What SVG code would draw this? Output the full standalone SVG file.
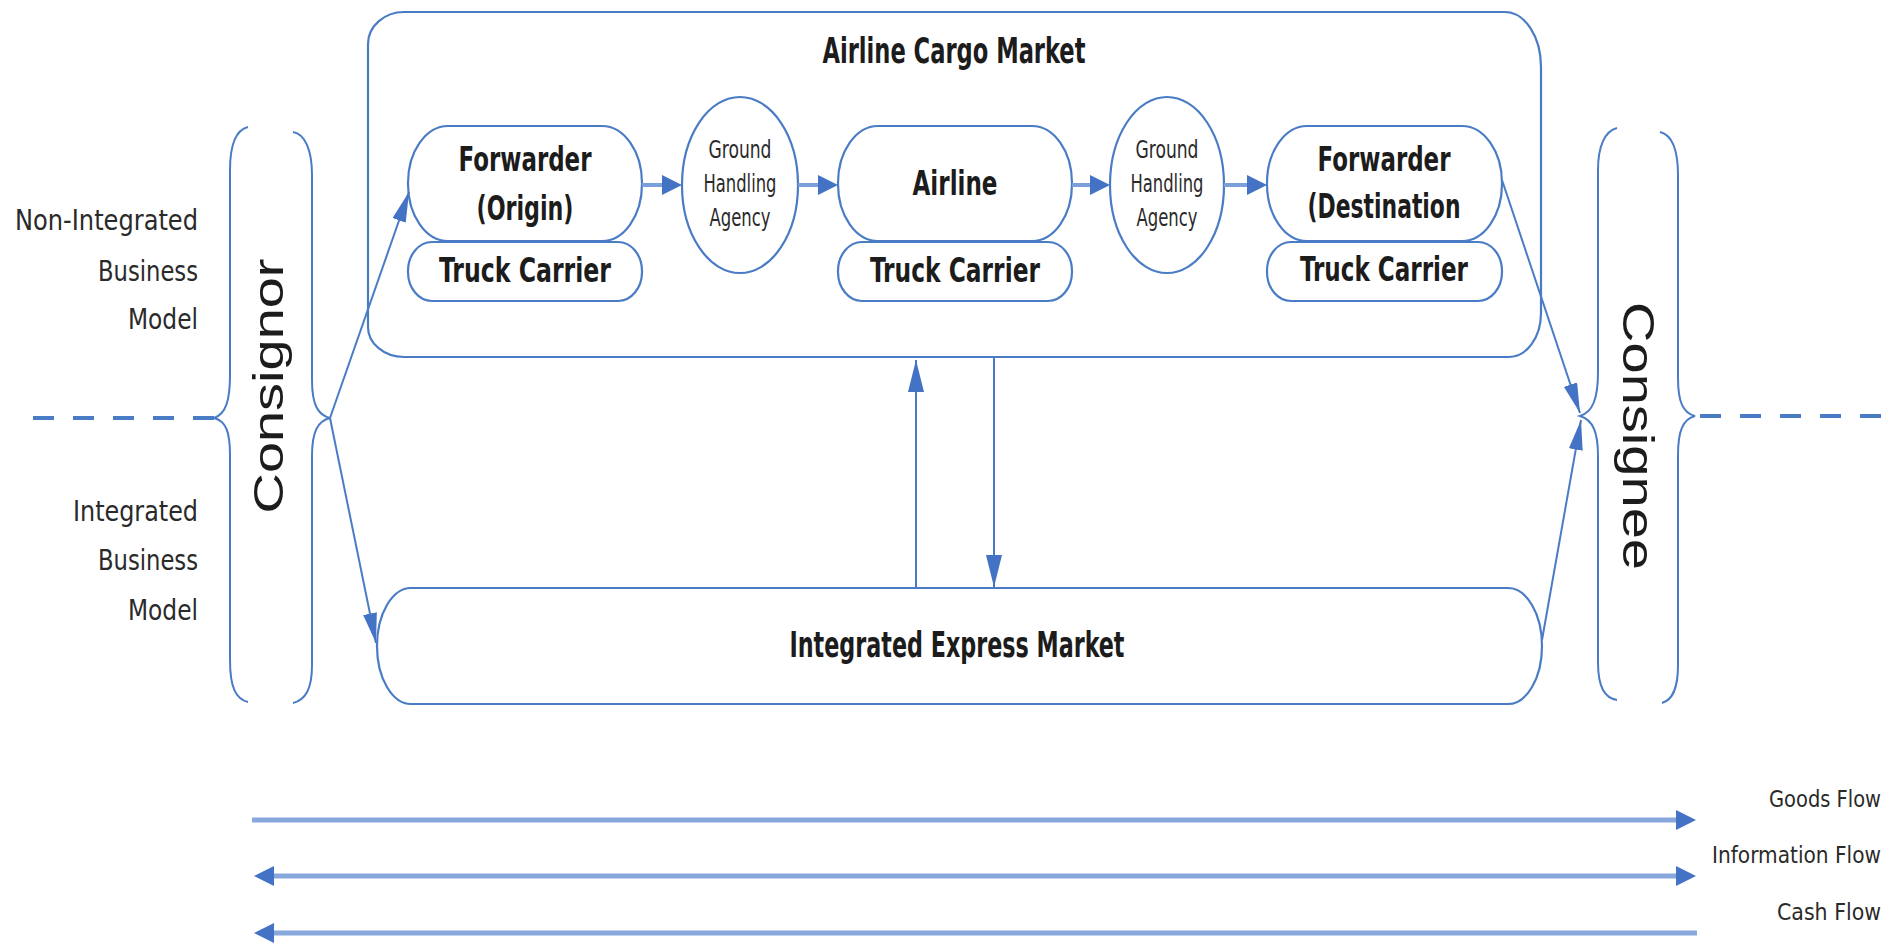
<svg xmlns="http://www.w3.org/2000/svg" width="1900" height="945" viewBox="0 0 1900 945">
  <defs>
    <style>
      .shape { fill: #ffffff; stroke: #4a7cc6; stroke-width: 2.2; }
      .brace { fill: none; stroke: #4a7cc6; stroke-width: 2; }
      .sep { fill: none; stroke: #4a7cc6; stroke-width: 4; stroke-dasharray: 21 19; }
      .thin { fill: none; stroke: #4a7cc6; stroke-width: 2; }
      .band { fill: none; stroke: #7b9fdb; stroke-width: 4; }
      .legend { fill: none; stroke: #87a7dd; stroke-width: 5; }
      .bold { font-family: "DejaVu Sans Condensed", "DejaVu Sans", sans-serif; font-weight: bold; fill: #1c1c1c; text-anchor: middle; }
      .small { font-family: "DejaVu Sans Condensed", "DejaVu Sans", sans-serif; font-size: 24px; fill: #2a2a2a; text-anchor: middle; }
      .side { font-family: "DejaVu Sans Condensed", "DejaVu Sans", sans-serif; font-size: 29px; fill: #2a2a2a; text-anchor: end; }
      .leg { font-family: "DejaVu Sans Condensed", "DejaVu Sans", sans-serif; font-size: 23px; fill: #2a2a2a; text-anchor: end; }
      .party { font-family: "Liberation Sans", Arial, sans-serif; fill: #1c1c1c; text-anchor: middle; }
    </style>
    <!-- short, wide head for the flow arrows between nodes -->
    <marker id="ahN" markerUnits="userSpaceOnUse" viewBox="0 0 20 20" markerWidth="20" markerHeight="20" refX="12" refY="10" orient="auto">
      <path d="M0,0 L20,10 L0,20 z" fill="#4472c4"/>
    </marker>
    <!-- long, narrow head for vertical and steep links -->
    <marker id="ahV" markerUnits="userSpaceOnUse" viewBox="0 0 32 16" markerWidth="32" markerHeight="16" refX="32" refY="8" orient="auto">
      <path d="M0,0 L32,8 L0,16 z" fill="#4472c4"/>
    </marker>
    <marker id="ahD" markerUnits="userSpaceOnUse" viewBox="0 0 30 14" markerWidth="30" markerHeight="14" refX="30" refY="7" orient="auto">
      <path d="M0,0 L30,7 L0,14 z" fill="#4472c4"/>
    </marker>
    <!-- legend heads -->
    <marker id="ahL" markerUnits="userSpaceOnUse" viewBox="0 0 20 20" markerWidth="20" markerHeight="20" refX="10" refY="10" orient="auto-start-reverse">
      <path d="M0,0 L20,10 L0,20 z" fill="#4472c4"/>
    </marker>
  </defs>

  <rect width="1900" height="945" fill="#ffffff"/>

  <!-- dashed separators between the two business models -->
  <g id="separators">
    <line class="sep" x1="214" y1="418" x2="27" y2="418"/>
    <line class="sep" x1="1700" y1="416" x2="1900" y2="416"/>
  </g>

  <!-- side labels -->
  <g id="model-labels">
    <text class="side" x="198" y="230" textLength="183" lengthAdjust="spacingAndGlyphs">Non-Integrated</text>
    <text class="side" x="198" y="281" textLength="100" lengthAdjust="spacingAndGlyphs">Business</text>
    <text class="side" x="198" y="329" textLength="70" lengthAdjust="spacingAndGlyphs">Model</text>
    <text class="side" x="198" y="521" textLength="125" lengthAdjust="spacingAndGlyphs">Integrated</text>
    <text class="side" x="198" y="570" textLength="100" lengthAdjust="spacingAndGlyphs">Business</text>
    <text class="side" x="198" y="620" textLength="70" lengthAdjust="spacingAndGlyphs">Model</text>
  </g>

  <!-- Consignor -->
  <g id="consignor">
    <path class="brace" d="M248,127 C236,130 230,145 230,170 L230,375 C230,400 226,414 214,418 C226,421 230,432 230,455 L230,660 C230,688 236,699 248,702"/>
    <path class="brace" d="M293,132 C305,134 312,150 312,175 L312,380 C312,405 318,415 330,418 C318,421 312,431 312,456 L312,665 C312,690 305,700 293,703"/>
    <text class="party" font-size="42" transform="translate(283,386) rotate(-90)" textLength="255" lengthAdjust="spacingAndGlyphs">Consignor</text>
  </g>

  <!-- Consignee -->
  <g id="consignee">
    <path class="brace" d="M1617,128 C1605,131 1598,146 1598,170 L1598,372 C1598,398 1593,412 1580,416 C1593,420 1598,432 1598,456 L1598,662 C1598,688 1605,698 1617,700"/>
    <path class="brace" d="M1660,132 C1672,135 1678,150 1678,175 L1678,378 C1678,402 1683,413 1695,416 C1683,419 1678,431 1678,455 L1678,665 C1678,690 1672,700 1662,703"/>
    <text class="party" font-size="44" transform="translate(1623,436) rotate(90)" textLength="268" lengthAdjust="spacingAndGlyphs">Consignee</text>
  </g>

  <!-- Airline Cargo Market frame -->
  <g id="airline-cargo-market">
    <path class="shape" d="M404,12 L1505,12 A36,55 0 0 1 1541,67 L1541,313 A32,44 0 0 1 1509,357 L404,357 A36,30 0 0 1 368,327 L368,44 A36,32 0 0 1 404,12 z"/>
    <text class="bold" x="954" y="63" font-size="35" textLength="263" lengthAdjust="spacingAndGlyphs">Airline Cargo Market</text>
  </g>

  <!-- Forwarder (Origin) -->
  <g id="forwarder-origin">
    <rect class="shape" x="408" y="126" width="234" height="115" rx="40" ry="57"/>
    <text class="bold" x="525" y="171" font-size="33" textLength="133" lengthAdjust="spacingAndGlyphs">Forwarder</text>
    <text class="bold" x="525" y="220" font-size="33" textLength="97" lengthAdjust="spacingAndGlyphs">(Origin)</text>
  </g>
  <g id="truck-origin">
    <rect class="shape" x="408" y="242" width="234" height="59" rx="24" ry="29"/>
    <text class="bold" x="525" y="282" font-size="33" textLength="172" lengthAdjust="spacingAndGlyphs">Truck Carrier</text>
  </g>

  <!-- Ground Handling Agency (origin side) -->
  <g id="gha-origin">
    <ellipse class="shape" cx="740" cy="185" rx="58" ry="88"/>
    <text class="small" x="740" y="158" textLength="63" lengthAdjust="spacingAndGlyphs">Ground</text>
    <text class="small" x="740" y="192" textLength="73" lengthAdjust="spacingAndGlyphs">Handling</text>
    <text class="small" x="740" y="226" textLength="61" lengthAdjust="spacingAndGlyphs">Agency</text>
  </g>

  <!-- Airline -->
  <g id="airline">
    <rect class="shape" x="838" y="126" width="234" height="115" rx="40" ry="57"/>
    <text class="bold" x="955" y="195" font-size="33" textLength="85" lengthAdjust="spacingAndGlyphs">Airline</text>
  </g>
  <g id="truck-airline">
    <rect class="shape" x="838" y="242" width="234" height="59" rx="24" ry="29"/>
    <text class="bold" x="955" y="282" font-size="33" textLength="170" lengthAdjust="spacingAndGlyphs">Truck Carrier</text>
  </g>

  <!-- Ground Handling Agency (destination side) -->
  <g id="gha-destination">
    <ellipse class="shape" cx="1167" cy="185" rx="57" ry="88"/>
    <text class="small" x="1167" y="158" textLength="63" lengthAdjust="spacingAndGlyphs">Ground</text>
    <text class="small" x="1167" y="192" textLength="73" lengthAdjust="spacingAndGlyphs">Handling</text>
    <text class="small" x="1167" y="226" textLength="61" lengthAdjust="spacingAndGlyphs">Agency</text>
  </g>

  <!-- Forwarder (Destination) -->
  <g id="forwarder-destination">
    <rect class="shape" x="1267" y="126" width="235" height="115" rx="40" ry="57"/>
    <text class="bold" x="1384" y="171" font-size="33" textLength="133" lengthAdjust="spacingAndGlyphs">Forwarder</text>
    <text class="bold" x="1384" y="218" font-size="33" textLength="153" lengthAdjust="spacingAndGlyphs">(Destination</text>
  </g>
  <g id="truck-destination">
    <rect class="shape" x="1267" y="242" width="235" height="59" rx="24" ry="29"/>
    <text class="bold" x="1384" y="281" font-size="33" textLength="168" lengthAdjust="spacingAndGlyphs">Truck Carrier</text>
  </g>

  <!-- Integrated Express Market -->
  <g id="integrated-express-market">
    <rect class="shape" x="377" y="588" width="1165" height="116" rx="34" ry="58"/>
    <text class="bold" x="957" y="657" font-size="35" textLength="335" lengthAdjust="spacingAndGlyphs">Integrated Express Market</text>
  </g>

  <!-- connectors -->
  <g id="connectors">
    <!-- goods path through the airline cargo chain -->
    <line class="band" x1="642" y1="185" x2="674" y2="185" marker-end="url(#ahN)"/>
    <line class="band" x1="798" y1="185" x2="830" y2="185" marker-end="url(#ahN)"/>
    <line class="band" x1="1072" y1="185" x2="1102" y2="185" marker-end="url(#ahN)"/>
    <line class="band" x1="1224" y1="185" x2="1259" y2="185" marker-end="url(#ahN)"/>
    <!-- consignor to both markets -->
    <line class="thin" x1="330" y1="418" x2="409" y2="192" marker-end="url(#ahD)"/>
    <line class="thin" x1="330" y1="418" x2="376" y2="643" marker-end="url(#ahD)"/>
    <!-- both markets to consignee -->
    <line class="thin" x1="1502" y1="180" x2="1580" y2="413" marker-end="url(#ahD)"/>
    <line class="thin" x1="1542" y1="640" x2="1581" y2="420" marker-end="url(#ahD)"/>
    <!-- exchange between the two markets -->
    <line class="thin" x1="916" y1="588" x2="916" y2="360" marker-end="url(#ahV)"/>
    <line class="thin" x1="994" y1="358" x2="994" y2="587" marker-end="url(#ahV)"/>
  </g>

  <!-- legend -->
  <g id="legend">
    <line class="legend" x1="252" y1="820" x2="1686" y2="820" marker-end="url(#ahL)"/>
    <line class="legend" x1="264" y1="876" x2="1686" y2="876" marker-start="url(#ahL)" marker-end="url(#ahL)"/>
    <line class="legend" x1="264" y1="933" x2="1697" y2="933" marker-start="url(#ahL)"/>
    <text class="leg" x="1881" y="807" textLength="112" lengthAdjust="spacingAndGlyphs">Goods Flow</text>
    <text class="leg" x="1881" y="863" textLength="169" lengthAdjust="spacingAndGlyphs">Information Flow</text>
    <text class="leg" x="1881" y="920" textLength="104" lengthAdjust="spacingAndGlyphs">Cash Flow</text>
  </g>
</svg>
